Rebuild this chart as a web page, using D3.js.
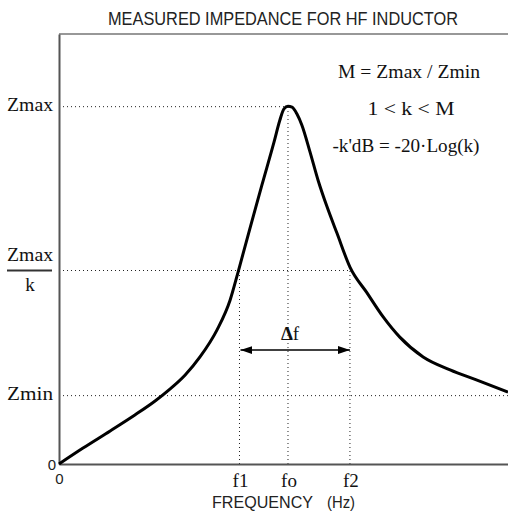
<!DOCTYPE html>
<html>
<head>
<meta charset="utf-8">
<script src="https://cdn.jsdelivr.net/npm/d3@7"></script>
<style>
  body { margin: 0; background: #fff; }
  .narrow { font-family: "Liberation Sans Narrow", "Arial Narrow", "Liberation Sans", sans-serif; fill: #222; }
  .serif { font-family: "Liberation Serif", "Times New Roman", serif; fill: #111; }
</style>
</head>
<body>
<div id="chart"></div>
<script>
// impedance curve, frequency vs |Z| (arbitrary units 0-100)
const freq = [0, 5.35, 11.4, 16.9, 21.4, 24.7, 28.1, 31.4, 35.2, 38.1, 39.9, 42.5, 45.2, 47.9, 49.2, 50.1, 51.0, 51.9, 53.0, 54.1, 55.9, 57.7, 59.7, 61.9, 64.8, 68.6, 72.2, 75.9, 81.1, 87.1, 93.1, 100];
const impedance = [0, 3.7, 7.7, 11.4, 14.65, 17.4, 20.7, 24.9, 31.2, 38.1, 44.7, 54.7, 64.9, 74.9, 80.0, 82.6, 83.2, 83.0, 81.4, 78.8, 72.6, 66.0, 59.8, 53.7, 45.8, 39.8, 34.2, 29.5, 24.9, 21.9, 19.5, 16.7];

// marked frequencies
const freqLabels = ["f1", "fo", "f2"];
const freqMarks = [40.2, 51.0, 64.8];
const freqTop = [45.0, 83.1, 45.0];

// marked levels
const levelLabels = ["Zmin", "Zmax/k", "Zmax"];
const levelMarks = [15.9, 45.0, 83.1];
const levelEnd = [100, 64.8, 51.0];

const notes = ["M = Zmax / Zmin", "1 < k < M", "-k'dB = -20\u00b7Log(k)"];

const W = 508, H = 515;
const padL = 59, padR = 508, padT = 34, padB = 464;

const x = d3.scaleLinear().domain([0, 100]).range([padL, padR]);
const y = d3.scaleLinear().domain([0, 100]).range([padB, padT]);

const svg = d3.select("#chart").append("svg")
  .attr("width", W)
  .attr("height", H);

// title
svg.append("text")
  .attr("class", "narrow")
  .attr("x", 108).attr("y", 25)
  .attr("font-size", 18)
  .attr("textLength", 350)
  .attr("lengthAdjust", "spacingAndGlyphs")
  .text("MEASURED IMPEDANCE FOR HF INDUCTOR");

// dotted guides
svg.selectAll(".hguide")
  .data(levelMarks)
  .enter()
  .append("line")
  .attr("x1", x(0))
  .attr("x2", (d, i) => x(levelEnd[i]))
  .attr("y1", (d) => y(d))
  .attr("y2", (d) => y(d))
  .attr("stroke", "#222")
  .attr("stroke-width", 1)
  .attr("stroke-dasharray", "1,3");

svg.selectAll(".vguide")
  .data(freqMarks)
  .enter()
  .append("line")
  .attr("x1", (d) => x(d))
  .attr("x2", (d) => x(d))
  .attr("y1", y(0))
  .attr("y2", (d, i) => y(freqTop[i]))
  .attr("stroke", "#222")
  .attr("stroke-width", 1)
  .attr("stroke-dasharray", "1,3");

// frame: top line
svg.append("line")
  .attr("x1", x(0)).attr("x2", x(100))
  .attr("y1", y(100)).attr("y2", y(100))
  .attr("stroke", "#333").attr("stroke-width", 1.2);

// axes
const xAxis = d3.axisBottom(x).tickValues([0]).tickSize(0).tickSizeOuter(0).tickFormat(d3.format("d"));
const yAxis = d3.axisLeft(y).tickValues([0]).tickSize(0).tickSizeOuter(0).tickFormat(d3.format("d"));

const gx = svg.append("g")
  .attr("transform", "translate(0," + padB + ")")
  .call(xAxis);
const gy = svg.append("g")
  .attr("transform", "translate(" + padL + ",0)")
  .call(yAxis);

[gx, gy].forEach((g) => {
  g.select(".domain").attr("stroke", "#555").attr("stroke-width", 2);
  g.selectAll("text")
    .attr("class", "narrow")
    .attr("font-size", 15)
    .attr("fill", "#222");
});
gx.selectAll("text").attr("dy", "1.15em").attr("x", 0);
gy.selectAll("text").attr("x", -3).attr("dy", "0.35em");

// curve
const line = d3.line()
  .x((d, i) => x(freq[i]))
  .y((d) => y(d))
  .curve(d3.curveMonotoneX);

svg.append("path")
  .datum(impedance)
  .attr("d", line)
  .attr("fill", "none")
  .attr("stroke", "#000")
  .attr("stroke-width", 3)
  .attr("stroke-linejoin", "round");

// y level labels
svg.selectAll(".levelLabel")
  .data(levelLabels)
  .enter()
  .append("text")
  .attr("class", "serif")
  .attr("font-size", 19)
  .attr("x", 7)
  .attr("y", (d, i) => d === "Zmax/k" ? y(levelMarks[i]) - 10 : y(levelMarks[i]) + 4)
  .attr("textLength", 46)
  .attr("lengthAdjust", "spacingAndGlyphs")
  .text((d) => d.split("/")[0]);

// fraction bar and denominator for Zmax/k
const kIdx = levelLabels.indexOf("Zmax/k");
svg.append("line")
  .attr("x1", 7).attr("x2", 52)
  .attr("y1", y(levelMarks[kIdx])).attr("y2", y(levelMarks[kIdx]))
  .attr("stroke", "#333").attr("stroke-width", 2);
svg.append("text")
  .attr("class", "serif")
  .attr("font-size", 19)
  .attr("x", 30)
  .attr("y", y(levelMarks[kIdx]) + 20)
  .attr("text-anchor", "middle")
  .text(levelLabels[kIdx].split("/")[1]);

// frequency labels
svg.selectAll(".freqLabel")
  .data(freqLabels)
  .enter()
  .append("text")
  .attr("class", "serif")
  .attr("font-size", 19)
  .attr("x", (d, i) => x(freqMarks[i]) + 1)
  .attr("y", 487)
  .attr("text-anchor", "middle")
  .text((d) => d);

// x title
svg.append("text")
  .attr("class", "narrow")
  .attr("x", 212).attr("y", 508)
  .attr("font-size", 17)
  .attr("textLength", 101)
  .attr("lengthAdjust", "spacingAndGlyphs")
  .text("FREQUENCY");
svg.append("text")
  .attr("class", "narrow")
  .attr("x", 327).attr("y", 508)
  .attr("font-size", 17)
  .attr("textLength", 28)
  .attr("lengthAdjust", "spacingAndGlyphs")
  .text("(Hz)");

// notes
const noteX = [409, 411, 406];
const noteW = [142, 87, 147];
svg.selectAll(".note")
  .data(notes)
  .enter()
  .append("text")
  .attr("class", "serif")
  .attr("font-size", 19)
  .attr("x", (d, i) => noteX[i] - noteW[i] / 2)
  .attr("y", (d, i) => 78 + i * 37)
  .attr("textLength", (d, i) => noteW[i])
  .attr("lengthAdjust", "spacingAndGlyphs")
  .text((d) => d);

// delta f arrow
const defs = svg.append("defs");
["start", "end"].forEach((k) => {
  defs.append("marker")
    .attr("id", "arr-" + k)
    .attr("viewBox", "0 0 12 8")
    .attr("refX", 12).attr("refY", 4)
    .attr("markerWidth", 12).attr("markerHeight", 8)
    .attr("markerUnits", "userSpaceOnUse")
    .attr("orient", k === "start" ? "auto-start-reverse" : "auto")
    .append("path")
    .attr("d", "M0,0 L12,4 L0,8 Z")
    .attr("fill", "#000");
});
const arrowY = 26.5;
svg.append("line")
  .attr("x1", x(freqMarks[0]) + 1).attr("x2", x(freqMarks[2]))
  .attr("y1", y(arrowY)).attr("y2", y(arrowY))
  .attr("stroke", "#000").attr("stroke-width", 1.5)
  .attr("marker-start", "url(#arr-start)")
  .attr("marker-end", "url(#arr-end)");

const df = svg.append("text")
  .attr("class", "serif")
  .attr("font-size", 19)
  .attr("x", 290).attr("y", 340)
  .attr("text-anchor", "middle");
df.append("tspan").attr("font-weight", "bold").text("\u0394");
df.append("tspan").text("f");
</script>
</body>
</html>
